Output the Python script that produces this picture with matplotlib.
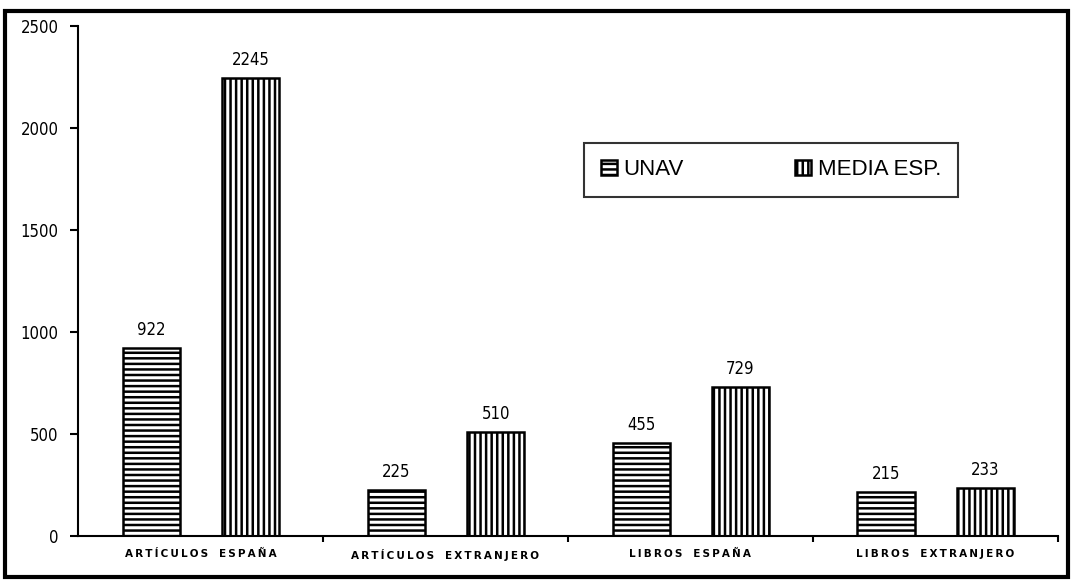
import matplotlib
matplotlib.use('Agg')
import matplotlib.pyplot as plt
import numpy as np
from matplotlib.patches import Rectangle

# datos
categorias = ['ARTÍCULOS ESPAÑA', 'ARTÍCULOS EXTRANJERO', 'LIBROS ESPAÑA', 'LIBROS EXTRANJERO']
unav = [922, 225, 455, 215]
media_esp = [2245, 510, 729, 233]
y_ticks = [0, 500, 1000, 1500, 2000, 2500]

plt.rcParams['hatch.linewidth'] = 1.8

fig = plt.figure(figsize=(10.73, 5.84), dpi=100)
ax = fig.add_axes([0.0727, 0.0822, 0.913, 0.8733])

# marco exterior
fig.patches.append(Rectangle((0.005, 0.012), 0.990, 0.970, transform=fig.transFigure,
                             fill=False, edgecolor='black', linewidth=3))

x = np.arange(len(categorias))
ancho = 0.235
b1 = ax.bar(x + 0.30, unav, ancho, facecolor='white', edgecolor='black',
            hatch='---', linewidth=1.8, label='UNAV')
b2 = ax.bar(x + 0.705, media_esp, ancho, facecolor='white', edgecolor='black',
            hatch='|||', linewidth=1.8, label='MEDIA ESP.')

cond = dict(family='DejaVu Sans', stretch='condensed', fontsize=12)
for barras, vals in ((b1, unav), (b2, media_esp)):
    for b, v in zip(barras, vals):
        ax.text(b.get_x() + b.get_width() / 2, v + 45, str(v), ha='center', va='bottom', **cond)

ax.set_xlim(0, 4)
ax.set_ylim(0, 2500)
ax.set_yticks(y_ticks)
ax.set_yticklabels([str(t) for t in y_ticks], **cond)
ax.set_xticks([1, 2, 3, 4])
ax.set_xticklabels([])
ax.tick_params(axis='y', length=6, width=1.5, pad=8)
ax.tick_params(axis='x', length=4, width=1.5)
for s in ('top', 'right'):
    ax.spines[s].set_visible(False)
for s in ('left', 'bottom'):
    ax.spines[s].set_linewidth(1.5)

for i, c in enumerate(categorias):
    texto = '\u2009'.join(c).replace('\u2009 \u2009', '   ')
    ax.text(i + 0.5, -0.026, texto, transform=ax.get_xaxis_transform(), ha='center', va='top',
            fontsize=7.5, fontweight='bold', family='DejaVu Sans')

leg = ax.legend(loc='upper left', bbox_to_anchor=(0.517, 0.661, 0.381, 0.110), mode='expand',
                ncol=2, frameon=True, fancybox=False,
                prop={'family': 'Liberation Sans', 'size': 16},
                handlelength=0.7, handleheight=0.7, handletextpad=0.3, columnspacing=2.4,
                borderpad=0.75, borderaxespad=0)
leg.get_frame().set_edgecolor('black')
leg.get_frame().set_linewidth(1.5)

fig.savefig('out.png', dpi=100)
